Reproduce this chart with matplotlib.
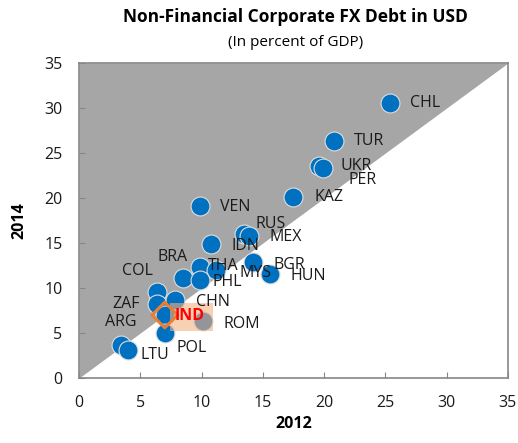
import numpy as np
import matplotlib
matplotlib.use("Agg")
import matplotlib.pyplot as plt
from matplotlib.patches import Rectangle

plt.rcParams['font.family'] = ['Open Sans', 'DejaVu Sans']

# data: FX debt in percent of GDP
countries = ["CHL", "TUR", "UKR", "PER", "KAZ", "VEN", "RUS", "MEX", "IDN", "BRA",
             "THA", "MYS", "PHL", "BGR", "HUN", "COL", "ZAF", "CHN", "IND", "ROM",
             "POL", "ARG", "LTU"]
debt_2012 = [25.4, 20.8, 19.6, 19.9, 17.5, 9.9, 13.5, 13.9, 10.8, 8.5,
             9.9, 11.2, 9.9, 14.2, 15.6, 6.4, 6.4, 7.8, 7.0, 10.1,
             7.0, 3.4, 4.0]
debt_2014 = [30.6, 26.3, 23.6, 23.3, 20.1, 19.1, 16.0, 15.8, 14.9, 11.1,
             12.3, 12.0, 10.9, 12.9, 11.6, 9.6, 8.2, 8.7, 7.0, 6.3,
             5.0, 3.7, 3.1]

# label offsets in pixels (dx, dy)
offsets = {"CHL": (20, 0), "TUR": (20, 0), "UKR": (21, 0), "PER": (26, -12),
           "KAZ": (21, 0), "VEN": (20, -1), "RUS": (11, 10), "MEX": (20, -1),
           "IDN": (20, -2), "BRA": (-26, 21), "THA": (8, 1), "MYS": (23, -3),
           "PHL": (12, -2), "BGR": (20, -3), "HUN": (20, -2), "COL": (-35, 21),
           "ZAF": (-45, 0), "CHN": (21, -2), "IND": (10, -1), "ROM": (21, -3),
           "POL": (12, -15), "ARG": (-16, 23), "LTU": (12, -5)}

fig = plt.figure(figsize=(5.18, 4.43), dpi=100)
ax = fig.add_axes([0.1525, 0.1467, 0.828, 0.711])

lim = 35
ax.fill_between([0, lim], [0, lim], [lim, lim], color="#A6A6A6", lw=0, zorder=0)

# highlight box behind IND label
ax.add_patch(Rectangle((7.4, 5.2), 3.5, 3.1, facecolor="#F4B183", alpha=0.6,
                       edgecolor="none", zorder=3))

ax.scatter(debt_2012, debt_2014, s=185, color="#0070C0", edgecolors="#DDDDDD",
           linewidths=0.8, zorder=2)

i = countries.index("IND")
ax.scatter([debt_2012[i]], [debt_2014[i]], s=170, marker="D", facecolors="none",
           edgecolors="#ED7D31", linewidths=2.2, zorder=4)

for c, x, y in zip(countries, debt_2012, debt_2014):
    dx, dy = offsets[c]
    if c == "IND":
        ax.annotate(c, (x, y), xytext=(dx, dy), textcoords="offset pixels",
                    ha="left", va="center", fontsize=11.5, color="#FF0000",
                    fontweight="bold", zorder=5)
    else:
        ax.annotate(c, (x, y), xytext=(dx, dy), textcoords="offset pixels",
                    ha="left", va="center", fontsize=11.5, color="#1a1a1a", zorder=5)

ax.set_xlim(0, lim)
ax.set_ylim(0, lim)
ax.set_xticks(np.arange(0, 36, 5))
ax.set_yticks(np.arange(0, 36, 5))
ax.tick_params(direction="in", length=4, color="#868686", labelsize=11.5,
               labelcolor="#1a1a1a")
ax.tick_params(axis="x", pad=12)
ax.tick_params(axis="y", pad=12)
for sp in ax.spines.values():
    sp.set_color("#868686")
    sp.set_linewidth(1.2)

ax.set_xlabel("2012", fontsize=11.5, fontweight="bold", labelpad=4)
ax.set_ylabel("2014", fontsize=11.5, fontweight="bold", labelpad=12)

fig.text(0.57, 0.962, "Non-Financial Corporate FX Debt in USD", ha="center",
         va="center", fontsize=12.5, fontweight="bold")
fig.text(0.57, 0.905, "(In percent of GDP)", ha="center", va="center", fontsize=11)

fig.savefig("out.png", dpi=100)
